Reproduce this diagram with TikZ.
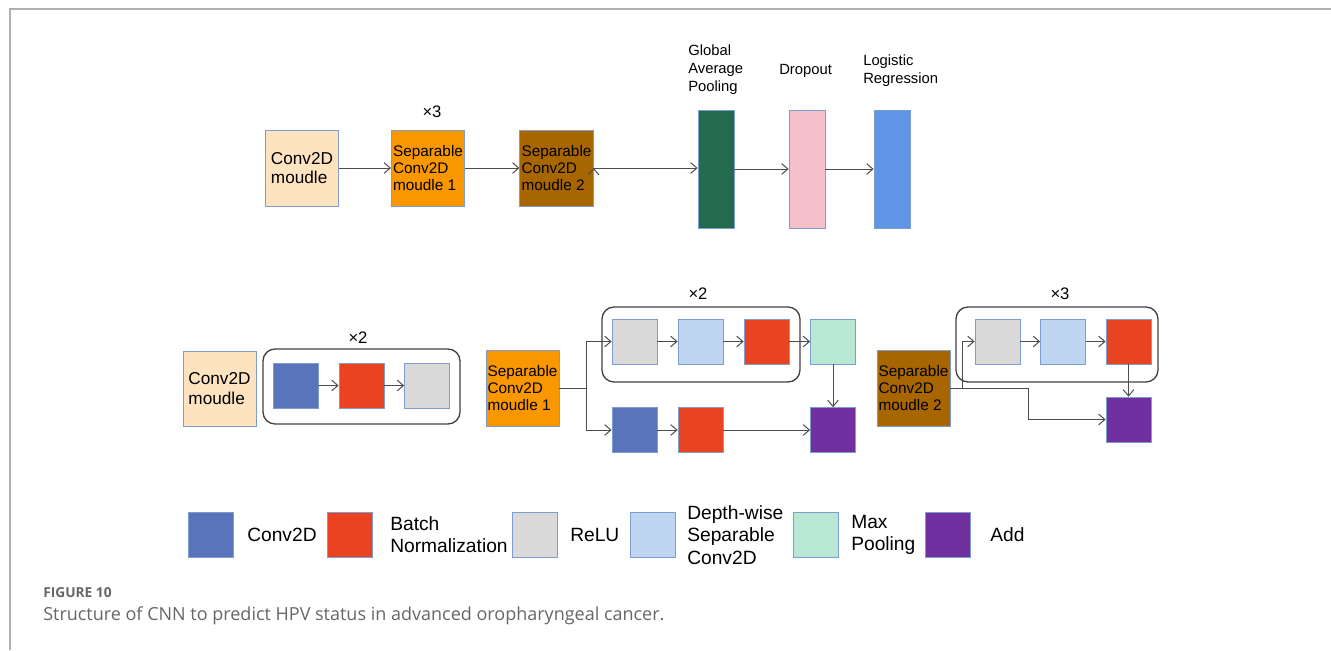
\documentclass[tikz,border=0pt]{standalone}
\usepackage{fontspec}
\setmainfont{Liberation Sans}
\newfontfamily\capfont{Open Sans}
\usepackage{tikz}
\usetikzlibrary{arrows.meta, positioning, shapes}

\definecolor{edgeblue}{HTML}{7D9CD0}
\definecolor{peach}{HTML}{FDE3C0}
\definecolor{orangem}{HTML}{F99700}
\definecolor{brownm}{HTML}{A86600}
\definecolor{gapgreen}{HTML}{226B4E}
\definecolor{droppink}{HTML}{F5C0CA}
\definecolor{lrblue}{HTML}{5E95E4}
\definecolor{convblue}{HTML}{5A74BB}
\definecolor{bnred}{HTML}{E94322}
\definecolor{relugray}{HTML}{D9D9D9}
\definecolor{dwblue}{HTML}{BED6F2}
\definecolor{mpmint}{HTML}{B8E8D4}
\definecolor{addpurple}{HTML}{7030A0}
\definecolor{framegray}{HTML}{B0B0B0}
\definecolor{capgray}{HTML}{666666}

\tikzset{
  blk/.style={draw=edgeblue, line width=0.6pt, minimum width=33.75pt, minimum height=33.75pt, inner sep=0pt},
  module/.style={draw=edgeblue, line width=0.6pt, minimum width=55pt, minimum height=57pt, inner sep=0.5pt, align=left},
  bar/.style={draw=edgeblue, line width=0.6pt, minimum width=27pt, minimum height=88.5pt, inner sep=0pt},
  rep/.style={draw=black!75, line width=1pt, rounded corners=9pt, inner sep=0pt},
  conn/.style={-{Straight Barb[length=4.6pt,width=8pt]}, draw=black!70, line width=0.75pt},
  plain/.style={draw=black!70, line width=0.75pt},
  lbl/.style={anchor=west, align=left, inner sep=0pt},
}

\begin{document}
\begin{tikzpicture}[x=0.75pt, y=-0.75pt]
            \useasboundingbox (0,0) rectangle (1331,650);
            % frame
            \draw[framegray, line width=1.3pt] (10,650) -- (10,9) -- (1331,9);

            % top row
            \node[module, fill=peach, font=\fontsize{12.9}{14.5}\selectfont] (conv) at (302,168) {Conv2D\\moudle};
            \node[module, fill=orangem, font=\fontsize{11.5}{13}\selectfont] (sepa) at (428,168) {Separable\\Conv2D\\moudle 1};
            \node[module, fill=brownm, font=\fontsize{11.5}{13}\selectfont] (sepb) at (556.5,168) {Separable\\Conv2D\\moudle 2};
            \node[bar, fill=gapgreen] (gap) at (716,169) {};
            \node[bar, fill=droppink] (drop) at (807,169) {};
            \node[bar, fill=lrblue] (logit) at (892,169) {};

            \node[font=\fontsize{12.5}{14}\selectfont] (xthree) at (432,112) {×3};
            \node[lbl, font=\fontsize{11.1}{13.5}\selectfont] (gaplbl) at (688,70) {Global\\Average\\Pooling};
            \node[lbl, font=\fontsize{11.1}{13.5}\selectfont] (droplbl) at (779,71) {Dropout};
            \node[lbl, font=\fontsize{11.1}{13.5}\selectfont] (logitlbl) at (863,71) {Logistic\\Regression};

            \path[conn] (conv) edge (sepa);
            \path[conn] (sepa) edge (sepb);
            \path[conn] (sepb.east) edge (gap.west |- sepb.east);
            \path[conn] (gap) edge (drop);
            \path[conn] (drop) edge (logit);

            % Conv2D moudle
            \node[module, fill=peach, minimum width=54.75pt, minimum height=56.25pt, font=\fontsize{12.9}{14.5}\selectfont] (convm) at (219.5,388.5) {Conv2D\\moudle};
            \node[rep, minimum width=147.75pt, minimum height=56.25pt] (repa) at (361.5,386.5) {};
            \node[font=\fontsize{12.5}{14}\selectfont] (xtwoa) at (358,338) {×2};
            \node[blk, fill=convblue] (ca) at (295.5,385.5) {};
            \node[blk, fill=bnred] (ba) at (361.5,385.5) {};
            \node[blk, fill=relugray] (ra) at (427,385.5) {};
            \path[conn] (ca) edge (ba);
            \path[conn] (ba) edge (ra);

            % Separable Conv2D moudle 1
            \node[module, fill=orangem, minimum width=54.75pt, font=\fontsize{11.5}{13}\selectfont] (sepma) at (522.5,388) {Separable\\Conv2D\\moudle 1};
            \node[rep, minimum width=148.5pt, minimum height=56.25pt] (repb) at (701,344.5) {};
            \node[font=\fontsize{12.5}{14}\selectfont] (xtwob) at (698,294) {×2};
            \node[blk, fill=relugray] (rb) at (634.5,341.5) {};
            \node[blk, fill=dwblue] (db) at (700.5,341.5) {};
            \node[blk, fill=bnred] (bb) at (766.5,341.5) {};
            \node[blk, fill=mpmint] (mpb) at (833,341.5) {};
            \node[blk, fill=convblue] (cc) at (634.5,430) {};
            \node[blk, fill=bnred] (bc) at (700.5,430) {};
            \node[blk, fill=addpurple] (addb) at (833,430) {};
            \coordinate (ja) at (586,388);
            \draw[plain] (sepma.east) -- (ja);
            \draw[conn] (ja) |- (rb.west);
            \draw[conn] (ja) |- (cc.west);
            \path[conn] (rb) edge (db);
            \path[conn] (db) edge (bb);
            \path[conn] (bb) edge (mpb);
            \path[conn] (mpb) edge (addb);
            \path[conn] (cc) edge (bc);
            \path[conn] (bc) edge (addb);

            % Separable Conv2D moudle 2
            \node[module, fill=brownm, minimum width=54.75pt, font=\fontsize{11.5}{13}\selectfont] (sepmb) at (913.5,388) {Separable\\Conv2D\\moudle 2};
            \node[rep, minimum width=151.5pt, minimum height=56.25pt] (repc) at (1057,344.5) {};
            \node[font=\fontsize{12.5}{14}\selectfont] (xthreeb) at (1060,294) {×3};
            \node[blk, fill=relugray] (rc) at (997.5,341.5) {};
            \node[blk, fill=dwblue] (dc) at (1063,341.5) {};
            \node[blk, fill=bnred] (bd) at (1128.5,341.5) {};
            \node[blk, fill=addpurple] (addc) at (1128.5,419.5) {};
            \coordinate (jb) at (962,388);
            \coordinate (kb) at (1028,388);
            \draw[plain] (sepmb.east) -- (kb);
            \draw[conn] (jb) |- (rc.west);
            \draw[conn] (kb) |- (addc.west);
            \path[conn] (rc) edge (dc);
            \path[conn] (dc) edge (bd);
            \path[conn] (bd) edge (addc);

            % legend
            \node[blk, fill=convblue] (lconv) at (210.5,535) {};
            \node[blk, fill=bnred] (lbn) at (350,535) {};
            \node[blk, fill=relugray] (lrelu) at (535,535) {};
            \node[blk, fill=dwblue] (ldw) at (652.5,535) {};
            \node[blk, fill=mpmint] (lmp) at (815.5,535) {};
            \node[blk, fill=addpurple] (ladd) at (947.5,535) {};
            \node[lbl, font=\fontsize{14.4}{16.5}\selectfont] at (247,535) {Conv2D};
            \node[lbl, font=\fontsize{14.4}{16.5}\selectfont] at (390,535) {Batch\\Normalization};
            \node[lbl, font=\fontsize{14.4}{16.5}\selectfont] at (570,535) {ReLU};
            \node[lbl, font=\fontsize{14.4}{16.8}\selectfont] at (687,535) {Depth-wise\\Separable\\Conv2D};
            \node[lbl, font=\fontsize{14.4}{16.5}\selectfont] at (851,535) {Max\\Pooling};
            \node[lbl, font=\fontsize{14.4}{16.5}\selectfont] at (990,535) {Add};

            % caption
            \node[lbl, text=capgray, font=\capfont\bfseries\fontsize{10.3}{12}\selectfont] (figno) at (43,593) {FIGURE 10};
            \node[lbl, text=capgray, font=\capfont\fontsize{13.5}{16}\selectfont] (figcap) at (43,616) {Structure of CNN to predict HPV status in advanced oropharyngeal cancer.};
        \end{tikzpicture}
\end{document}
